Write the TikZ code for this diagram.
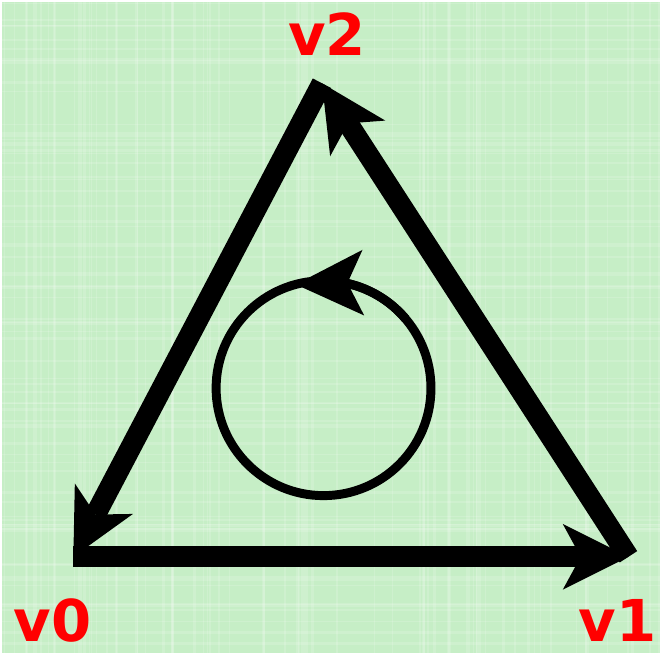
\documentclass[tikz,border=0pt]{standalone}
\usepackage{fontspec}
\setmainfont{DejaVu Sans}
\usepackage{tikz}
\usetikzlibrary{arrows.meta,bending}
\definecolor{bggreen}{RGB}{198,238,198}
\definecolor{lblred}{RGB}{255,0,0}

\begin{document}
\begin{tikzpicture}[
  x=1pt,y=1pt,
  every node/.style={font=\fontsize{58}{58}\selectfont\bfseries},
  vlabel/.style={text=lblred,inner sep=0pt},
  edge/.style={line width=21pt,-{Stealth[length=66pt,width=66pt,inset=18pt,line width=0pt]}},
  ring/.style={line width=9pt},
  streak/.style={white,opacity=0.15}
]
  \fill[bggreen] (0,0) rectangle (662,655);
  \pgfmathsetseed{7}
  \foreach \k in {1,...,70} {
    \pgfmathsetmacro{\px}{rnd*662}
    \pgfmathsetmacro{\py}{rnd*655}
    \pgfmathsetmacro{\pw}{0.6+rnd*3}
    \draw[streak,line width=\pw pt] (\px,0) -- (\px,655);
    \draw[streak,line width=\pw pt] (0,\py) -- (662,\py);
  }
  \useasboundingbox (0,0) rectangle (662,655);
  \coordinate (v0) at (72,97);
  \coordinate (v1) at (630,97);
  \coordinate (v2) at (322,573);
  \coordinate (c) at (323.5,266.5);
  \draw[edge] (v0) -- (v1);
  \draw[edge] (v1) -- (v2);
  \draw[edge] (v2) -- (v0);
  \draw[ring] (c) circle[radius=108pt];
  \draw[ring,-{Stealth[length=68pt,width=66pt,inset=16pt,line width=0pt,flex]}]
    ([shift={(40:108pt)}]c) arc[start angle=40,end angle=105,radius=108pt];
  \node[vlabel] (l0) at (51,33) {v0};
  \node[vlabel] (l1) at (619,33) {v1};
  \node[vlabel] (l2) at (327,622) {v2};
\end{tikzpicture}
\end{document}
